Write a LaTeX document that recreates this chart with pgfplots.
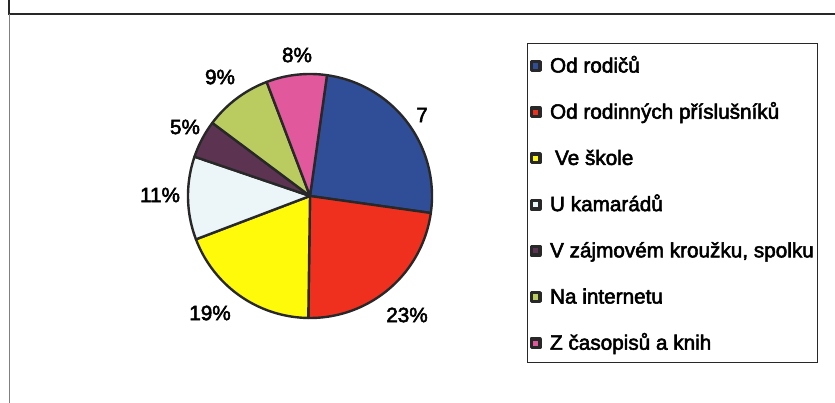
\documentclass[border=0pt]{standalone}
\usepackage{fontspec}
\setmainfont{Liberation Sans}[BoldFont=Liberation Sans, BoldFeatures={FakeBold=2.6}]
\usepackage{pgfplots}
\pgfplotsset{compat=1.18}
\definecolor{cblue}{RGB}{48,78,152}
\definecolor{cred}{RGB}{240,48,30}
\definecolor{cyellow}{RGB}{255,250,10}
\definecolor{cwhite}{RGB}{236,246,248}
\definecolor{cpurple}{RGB}{92,52,82}
\definecolor{cgreen}{RGB}{186,204,96}
\definecolor{cpink}{RGB}{226,88,156}
\definecolor{cedge}{RGB}{40,40,40}
\newcommand{\lstrut}{\rule[-8bp]{0pt}{26bp}}
% slice: start %, end %, colour, legend text  (pie starts 8 deg right of 12 o'clock, clockwise)
\newcommand{\pieslice}[4]{%
  \addplot[draw=cedge, line width=2.4bp, line join=round, fill=#3,
    domain={82-3.6*#2}:{82-3.6*#1}, samples=60, variable=\t]
    ({310+122*cos(\t)},{207+122*sin(\t)}) -- (axis cs:310,207) -- cycle;
  \addlegendentry{\lstrut#4}%
}
\begin{document}
\begin{tikzpicture}
\begin{axis}[
  hide axis, scale only axis,
  width=835bp, height=403bp,
  xmin=0, xmax=835, ymin=0, ymax=403,
  clip=false,
  legend cell align=left,
  legend image code/.code={\draw[#1, draw=cedge, line width=3.4bp] (0bp,-6bp) rectangle (8.6bp,2.6bp);},
  legend style={at={(axis cs:527,360)}, anchor=north west,
    draw=cedge, line width=1.1bp,
    inner xsep=2bp, inner ysep=11bp,
    row sep=26.7bp, column sep=7bp,
    nodes={inner ysep=0bp, inner xsep=1.5bp},
    font=\fontsize{20.8}{24}\selectfont\bfseries},
]
\pieslice{0}{25}{cblue}{Od rodičů}
\pieslice{25}{48}{cred}{Od rodinných příslušníků}
\pieslice{48}{67}{cyellow}{\hspace{5bp}Ve škole}
\pieslice{67}{78}{cwhite}{U kamarádů}
\pieslice{78}{83}{cpurple}{V zájmovém kroužku, spolku}
\pieslice{83}{92}{cgreen}{Na internetu}
\pieslice{92}{100}{cpink}{Z časopisů a knih}
\begin{scope}[font=\fontsize{20.8}{24}\selectfont\bfseries]
\node at (axis cs:297,348) {8\%};
\node at (axis cs:220,326) {9\%};
\node at (axis cs:185,276) {5\%};
\node at (axis cs:160,208) {11\%};
\node at (axis cs:210,90) {19\%};
\node at (axis cs:407,88) {23\%};
\node at (axis cs:422,288) {7};
\end{scope}
\draw[cedge, line width=1.8bp] (axis cs:9,403) -- (axis cs:9,389) -- (axis cs:835,389);
\draw[black!50, line width=1bp] (axis cs:9,389) -- (axis cs:9,0);
\end{axis}
\pgfresetboundingbox
\path (current axis.south west) rectangle (current axis.north east);
\end{tikzpicture}
\end{document}
